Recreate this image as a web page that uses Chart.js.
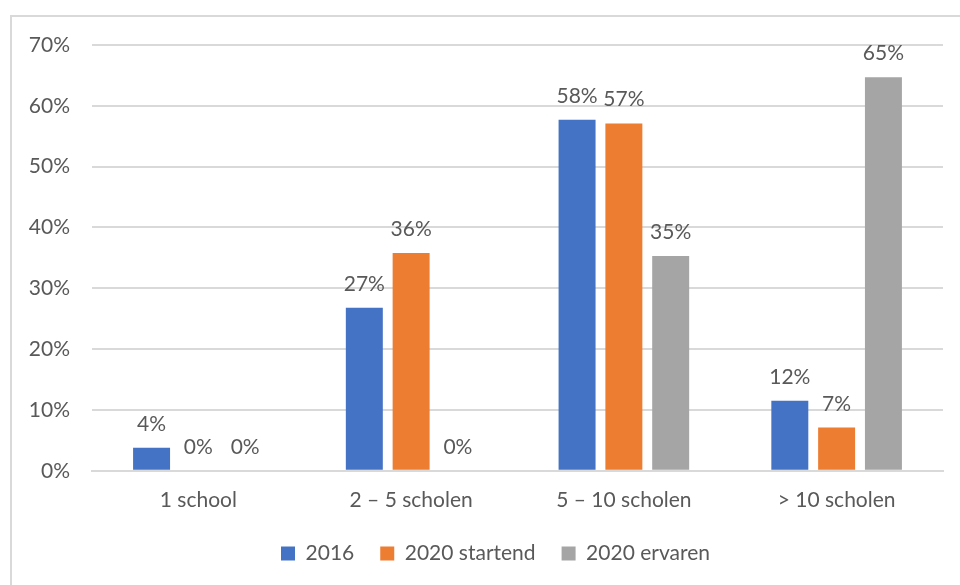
<!DOCTYPE html>
<html lang="nl">
<head>
  <meta charset="UTF-8" />
  <script src="https://cdn.jsdelivr.net/npm/chart.js@4/dist/chart.umd.min.js"></script>
  <title>Aantal scholen</title>
  <style>
    html, body { margin: 0; padding: 0; background: #fff; overflow: hidden; }
    #frame { position: absolute; left: 10px; top: 15px; width: 1000px; height: 600px; border: 2px solid #d9d9d9; }
    #wrap { position: absolute; left: 0; top: 0; width: 960px; height: 585px; }
  </style>
</head>
<body>
<div id="frame"></div>
<div id="wrap"><canvas id="chart" width="960" height="585"></canvas></div>
<script>
  const categories = ["1 school", "2 – 5 scholen", "5 – 10 scholen", "> 10 scholen"];
  const seriesNames = ["2016", "2020 startend", "2020 ervaren"];
  const values2016 = [3.8, 26.8, 57.7, 11.5];
  const valuesStartend = [0, 35.8, 57.1, 7.1];
  const valuesErvaren = [0, 0, 35.3, 64.7];
  const colors = ["#4472C4", "#ED7D31", "#A5A5A5"];
  const yTicks = [0, 10, 20, 30, 40, 50, 60, 70];

  const FONT = "Lato, 'Open Sans', sans-serif";
  const SIZE = 21;
  const TEXT = "#595959";

  // draws the value above every bar, like excel data labels
  const barLabels = {
    id: "barLabels",
    afterDatasetsDraw(chart) {
      const ctx = chart.ctx;
      ctx.save();
      ctx.font = `${SIZE}px ${FONT}`;
      ctx.fillStyle = TEXT;
      ctx.textAlign = "center";
      ctx.textBaseline = "alphabetic";
      chart.data.datasets.forEach((ds, i) => {
        chart.getDatasetMeta(i).data.forEach((bar, j) => {
          ctx.fillText(Math.round(ds.data[j]) + "%", bar.x, bar.y - 17);
        });
      });
      ctx.restore();
    }
  };

  // nudge the legend a bit to the right and up, like in the original
  const legendShift = {
    id: "legendShift",
    afterLayout(chart) {
      const lg = chart.legend;
      lg.left += 24; lg.right += 24;
      lg.top -= 5; lg.bottom -= 5;
    }
  };

  new Chart(document.getElementById("chart"), {
    type: "bar",
    data: {
      labels: categories,
      datasets: [values2016, valuesStartend, valuesErvaren].map((d, i) => ({
        label: seriesNames[i],
        data: d,
        backgroundColor: colors[i],
        categoryPercentage: 0.66,
        barPercentage: 0.79
      }))
    },
    options: {
      responsive: false,
      animation: false,
      layout: { padding: { top: 45, right: 17, bottom: 6, left: 0 } },
      plugins: {
        tooltip: { enabled: false },
        legend: {
          position: "bottom",
          labels: {
            color: TEXT,
            font: { family: FONT, size: SIZE },
            boxWidth: 14,
            boxHeight: 14,
            padding: 26
          }
        }
      },
      scales: {
        x: {
          grid: { display: false },
          border: { color: "#d9d9d9", width: 2 },
          ticks: { color: TEXT, font: { family: FONT, size: SIZE }, padding: 9 }
        },
        y: {
          min: 0,
          max: 70,
          afterFit: (scale) => { scale.width = 92; },
          afterBuildTicks: (scale) => { scale.ticks = yTicks.map(v => ({ value: v })); },
          border: { display: false },
          grid: { color: "#d9d9d9", lineWidth: 2, drawTicks: false },
          ticks: {
            color: TEXT,
            font: { family: FONT, size: SIZE },
            padding: 22,
            callback: (v) => v + "%"
          }
        }
      }
    },
    plugins: [barLabels, legendShift]
  });
</script>
</body>
</html>
